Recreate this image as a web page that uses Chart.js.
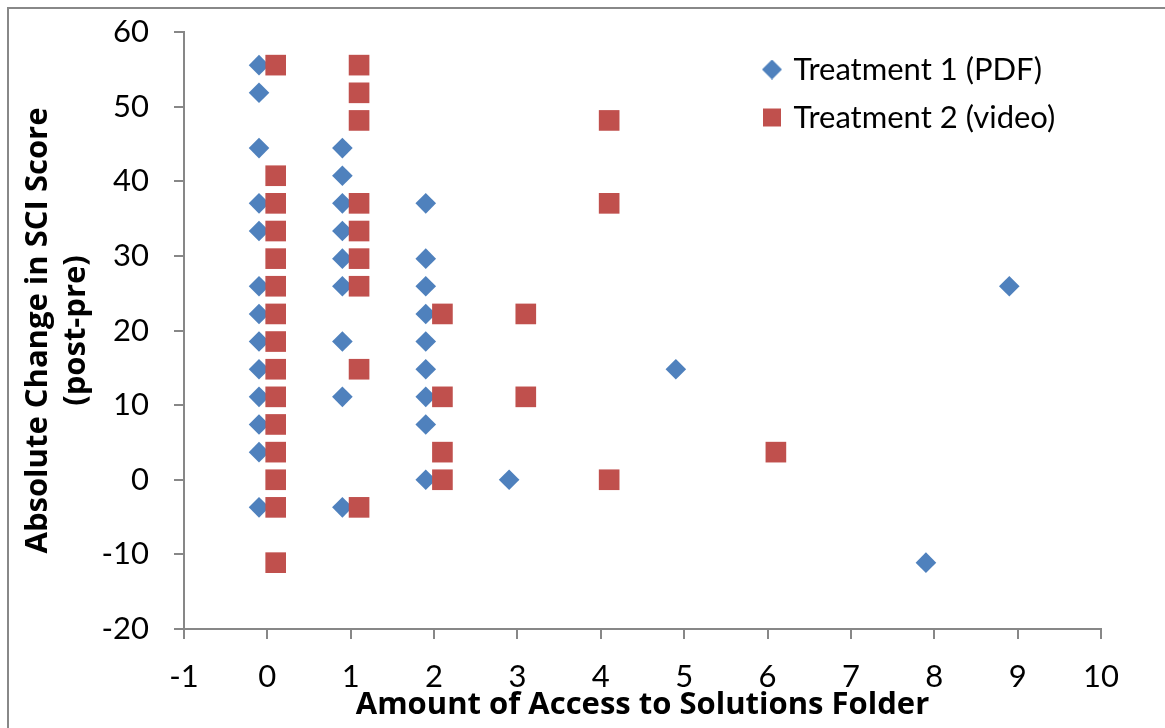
<!DOCTYPE html>
<html>
<head>
<meta charset="utf-8">
<script src="https://cdn.jsdelivr.net/npm/chart.js@4.4.1/dist/chart.umd.min.js"></script>
<style>
  body { margin: 0; background: #fff; }
  #wrap { position: relative; width: 1165px; height: 728px; overflow: hidden; }
  #frame {
    position: absolute; left: 7px; top: 7px; width: 1200px; height: 800px;
    border-left: 2px solid #888; border-top: 2px solid #888;
  }
  #chart { position: absolute; left: 0; top: 0; }
</style>
</head>
<body>
<div id="wrap">
  <div id="frame"></div>
  <canvas id="chart" width="1165" height="728"></canvas>
</div>
<script>
// Treatment 1 (PDF) - access count (offset -0.1) and score change
const pdfAccess = [
  -0.1, -0.1, -0.1, -0.1, -0.1, -0.1, -0.1, -0.1, -0.1, -0.1, -0.1, -0.1, -0.1,
  0.9, 0.9, 0.9, 0.9, 0.9, 0.9, 0.9, 0.9, 0.9,
  1.9, 1.9, 1.9, 1.9, 1.9, 1.9, 1.9, 1.9, 1.9,
  2.9, 4.9, 7.9, 8.9,
];
const pdfChange = [
  55.56, 51.85, 44.44, 37.04, 33.33, 25.93, 22.22, 18.52, 14.81, 11.11, 7.41, 3.7, -3.7,
  44.44, 40.74, 37.04, 33.33, 29.63, 25.93, 18.52, 11.11, -3.7,
  37.04, 29.63, 25.93, 22.22, 18.52, 14.81, 11.11, 7.41, 0,
  0, 14.81, -11.11, 25.93,
];

// Treatment 2 (video) - access count (offset +0.1) and score change
const videoAccess = [
  0.1, 0.1, 0.1, 0.1, 0.1, 0.1, 0.1, 0.1, 0.1, 0.1, 0.1, 0.1, 0.1, 0.1, 0.1,
  1.1, 1.1, 1.1, 1.1, 1.1, 1.1, 1.1, 1.1, 1.1,
  2.1, 2.1, 2.1, 2.1,
  3.1, 3.1,
  4.1, 4.1, 4.1,
  6.1,
];
const videoChange = [
  55.56, 40.74, 37.04, 33.33, 29.63, 25.93, 22.22, 18.52, 14.81, 11.11, 7.41, 3.7, 0, -3.7, -11.11,
  55.56, 51.85, 48.15, 37.04, 33.33, 29.63, 25.93, 14.81, -3.7,
  22.22, 11.11, 3.7, 0,
  22.22, 11.11,
  48.15, 37.04, 0,
  3.7,
];

const seriesNames = ['Treatment 1 (PDF)', 'Treatment 2 (video)'];
const seriesColors = ['#4F81BD', '#C0504D'];
const yTitle = ['Absolute Change in SCI Score', '(post-pre)'];
const xTitle = 'Amount of Access to Solutions Folder';

const toPoints = (xs, ys) => xs.map((x, i) => ({ x: x, y: ys[i] }));

// small legend icons
function legendIcon(shape, color, size) {
  const c = document.createElement('canvas');
  c.width = size;
  c.height = size;
  const g = c.getContext('2d');
  g.fillStyle = color;
  if (shape === 'diamond') {
    g.beginPath();
    g.moveTo(size / 2, 0);
    g.lineTo(size, size / 2);
    g.lineTo(size / 2, size);
    g.lineTo(0, size / 2);
    g.closePath();
    g.fill();
  } else {
    g.fillRect(1, 1, size - 2, size - 2);
  }
  return c;
}
const legendIcons = [
  legendIcon('diamond', seriesColors[0], 20),
  legendIcon('square', seriesColors[1], 20),
];

// put the legend in the upper right of the plot
const legendSpot = {
  id: 'legendSpot',
  afterLayout(chart) {
    const lg = chart.legend;
    lg.left = 749;
    lg.top = 37;
    lg.right = lg.left + 400;
    lg.bottom = lg.top + 200;
  },
};

const axisGray = '#878787';
const tickFont = { family: 'Lato', size: 31 };
const titleFont = { family: 'Open Sans', size: 31, weight: 'bold' };

new Chart(document.getElementById('chart'), {
  type: 'scatter',
  data: {
    datasets: [
      {
        label: seriesNames[0],
        data: toPoints(pdfAccess, pdfChange),
        pointStyle: 'rectRot',
        pointRadius: 10.3,
        pointBorderWidth: 0,
        backgroundColor: seriesColors[0],
        borderColor: seriesColors[0],
        order: 1,
      },
      {
        label: seriesNames[1],
        data: toPoints(videoAccess, videoChange),
        pointStyle: 'rect',
        pointRadius: 14.6,
        pointBorderWidth: 0,
        backgroundColor: seriesColors[1],
        borderColor: seriesColors[1],
        order: 0,
      },
    ],
  },
  options: {
    responsive: false,
    animation: false,
    devicePixelRatio: 1,
    events: [],
    layout: { padding: { top: 32, right: 64, left: 0, bottom: 0 } },
    plugins: {
      tooltip: { enabled: false },
      legend: {
        position: 'chartArea',
        align: 'start',
        labels: {
          usePointStyle: true,
          boxWidth: 12,
          boxHeight: 12,
          padding: 17,
          color: '#000',
          font: tickFont,
          generateLabels: (chart) =>
            chart.data.datasets.map((ds, i) => ({
              text: ds.label,
              fillStyle: ds.backgroundColor,
              strokeStyle: ds.backgroundColor,
              lineWidth: 0,
              pointStyle: legendIcons[i],
              hidden: false,
              datasetIndex: i,
              fontColor: '#000',
            })),
        },
      },
    },
    scales: {
      x: {
        type: 'linear',
        min: -1,
        max: 10,
        afterFit: (scale) => { scale.height = 99; },
        ticks: { stepSize: 1, color: '#000', font: tickFont, padding: 19 },
        grid: { drawOnChartArea: false, tickLength: 10, color: axisGray, lineWidth: 2 },
        border: { color: axisGray, width: 2 },
        title: {
          display: true,
          text: xTitle,
          color: '#000',
          font: titleFont,
          padding: { top: 0, bottom: 4 },
        },
      },
      y: {
        type: 'linear',
        min: -20,
        max: 60,
        afterFit: (scale) => {
          scale.width = 184;
          scale.paddingTop = 16;
          scale.paddingBottom = 16;
        },
        ticks: { stepSize: 10, color: '#000', font: tickFont, padding: 25 },
        grid: { drawOnChartArea: false, tickLength: 10, color: axisGray, lineWidth: 2 },
        border: { color: axisGray, width: 2 },
        title: {
          display: true,
          text: yTitle,
          color: '#000',
          font: titleFont,
          padding: { top: 20, bottom: 0 },
        },
      },
    },
  },
  plugins: [legendSpot],
});
</script>
</body>
</html>
